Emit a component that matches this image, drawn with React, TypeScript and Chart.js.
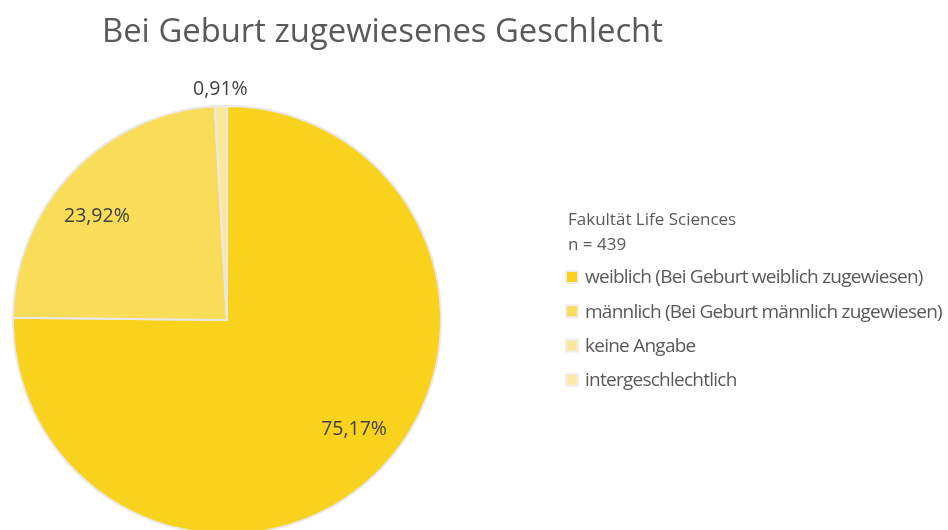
import React, { useEffect, useRef } from "react";
import { Chart, registerables } from "chart.js";

Chart.register(...registerables);

const chartTitle = "Bei Geburt zugewiesenes Geschlecht";
const legendTitle = ["Fakultät Life Sciences", "n = 439"];
const categories = [
  "weiblich (Bei Geburt weiblich zugewiesen)",
  "männlich (Bei Geburt männlich zugewiesen)",
  "keine Angabe",
  "intergeschlechtlich",
];
const percentages = [75.17, 23.92, 0.91, 0];
const colors = ["#f9d21d", "#f9dc58", "#fbe89b", "#fbeaa6"];

const W = 948;
const H = 540;

const overlayPlugin = {
  id: "overlay",
  afterDraw(chart: any) {
    const ctx = chart.ctx as CanvasRenderingContext2D;
    const meta = chart.getDatasetMeta(0);
    ctx.save();
    // title
    ctx.fillStyle = "#595959";
    ctx.font = "32.8px 'Open Sans'";
    ctx.textAlign = "left";
    ctx.textBaseline = "alphabetic";
    ctx.fillText(chartTitle, 102, 42);

    // slice labels
    ctx.font = "19.5px 'Open Sans'";
    ctx.fillStyle = "#404040";
    ctx.textAlign = "center";
    ctx.textBaseline = "middle";
    meta.data.forEach((arc: any, i: number) => {
      const v = percentages[i];
      if (!v) return;
      const { x, y, startAngle, endAngle, outerRadius } = arc.getProps(
        ["x", "y", "startAngle", "endAngle", "outerRadius"],
        true
      );
      const outside = v < 3;
      const mid = (startAngle + endAngle) / 2 - (outside ? 0 : 0.085);
      const r = outside ? outerRadius + 18 : outerRadius * 0.78;
      const lx = x + Math.cos(mid) * r;
      const ly = y + Math.sin(mid) * r;
      ctx.fillText(v.toFixed(2).replace(".", ",") + "%", lx, ly + 1);
    });

    // legend
    const lx = 568;
    ctx.textAlign = "left";
    ctx.fillStyle = "#595959";
    ctx.font = "17px 'Open Sans'";
    legendTitle.forEach((t, i) => ctx.fillText(t, lx, 220 + i * 25));
    const items = chart.data.labels as string[];
    const ds = chart.data.datasets[0];
    (ctx as any).letterSpacing = "-0.75px";
    ctx.font = "19px 'Open Sans'";
    items.forEach((label, i) => {
      const cy = 277 + i * 34.3;
      ctx.fillStyle = "#eeeeee";
      ctx.fillRect(lx - 3, cy - 7, 14, 14);
      ctx.fillStyle = ds.backgroundColor[i];
      ctx.fillRect(lx - 1, cy - 5, 10, 10);
      ctx.fillStyle = "#595959";
      ctx.fillText(label, lx + 17, cy + 1);
    });
    ctx.restore();
  },
};

export default function App() {
  const ref = useRef<HTMLCanvasElement | null>(null);
  useEffect(() => {
    document.body.style.margin = "0";
    const chart = new Chart(ref.current as HTMLCanvasElement, {
      type: "pie",
      data: {
        labels: categories,
        datasets: [
          {
            data: percentages,
            backgroundColor: colors,
            borderColor: "#e9e9e9",
            borderWidth: 2,
          },
        ],
      },
      options: {
        responsive: false,
        animation: false,
        layout: { padding: { left: 12, right: W - 442, top: 105, bottom: H - 535 } },
        plugins: {
          legend: { display: false },
          title: { display: false },
          tooltip: { enabled: false },
        },
      },
      plugins: [overlayPlugin],
    });
    return () => chart.destroy();
  }, []);
  return (
    <div style={{ position: "fixed", left: 0, top: 0, width: 948, height: 530, overflow: "hidden", background: "#fff" }}>
      <canvas ref={ref} width={W} height={H} style={{ width: W, height: H, display: "block" }} />
    </div>
  );
}
